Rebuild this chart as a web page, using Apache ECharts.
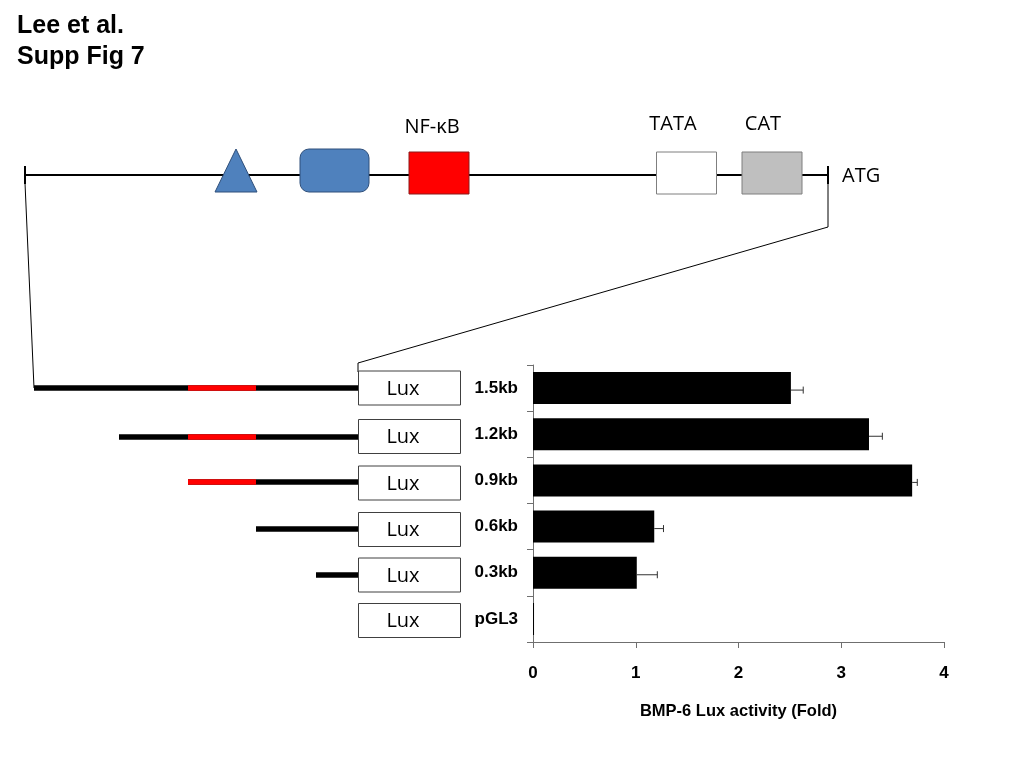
<!DOCTYPE html>
<html>
<head>
<meta charset="utf-8">
<script src="https://cdn.jsdelivr.net/npm/echarts@6/dist/echarts.min.js"></script>
<style>html,body{margin:0;padding:0;background:#fff}#c{width:1024px;height:768px}</style>
</head>
<body>
<div id="c"></div>
<script>
// ---- data ----
const categories = ['1.5kb', '1.2kb', '0.9kb', '0.6kb', '0.3kb', 'pGL3'];
const activity = [2.51, 3.27, 3.69, 1.18, 1.01, 0.01];
const errors = [0.12, 0.13, 0.05, 0.09, 0.20, 0];
const xTicks = [0, 1, 2, 3, 4];
const axisTitle = 'BMP-6 Lux activity (Fold)';
const titleLines = ['Lee et al.', 'Supp Fig 7'];
const elementLabels = ['NF-\u03baB', 'TATA', 'CAT', 'ATG'];
const boxLabel = 'Lux';

const narrow = "'Liberation Sans Narrow','Arial Narrow','Liberation Sans',Arial,sans-serif";
const calib = "'Open Sans','Noto Sans',sans-serif";

const chart = echarts.init(document.getElementById('c'));

const g = [];
// title
g.push({type:'text', style:{x:17, y:26, text:titleLines[0], font:"bold 25px 'Liberation Sans',Arial,sans-serif", fill:'#000', textVerticalAlign:'middle'}});
g.push({type:'text', style:{x:17, y:57, text:titleLines[1], font:"bold 25px 'Liberation Sans',Arial,sans-serif", fill:'#000', textVerticalAlign:'middle'}});

// promoter line
g.push({type:'line', shape:{x1:25, y1:175, x2:828, y2:175}, style:{stroke:'#000', lineWidth:2}});
g.push({type:'line', shape:{x1:25, y1:166, x2:25, y2:184}, style:{stroke:'#000', lineWidth:2}});
g.push({type:'line', shape:{x1:828, y1:166, x2:828, y2:184}, style:{stroke:'#000', lineWidth:2}});
// elements
g.push({type:'polygon', shape:{points:[[236,149],[215,192],[257,192]]}, style:{fill:'#4F81BD', stroke:'#2F4F7A', lineWidth:1}, z:10});
g.push({type:'rect', shape:{x:300, y:149, width:69, height:43, r:9}, style:{fill:'#4F81BD', stroke:'#2F4F7A', lineWidth:1}, z:10});
g.push({type:'rect', shape:{x:409, y:152, width:60, height:42}, style:{fill:'#FF0000', stroke:'#8B1A1A', lineWidth:1}, z:10});
g.push({type:'rect', shape:{x:656.5, y:152, width:60, height:42}, style:{fill:'#FFFFFF', stroke:'#7F7F7F', lineWidth:1}, z:10});
g.push({type:'rect', shape:{x:742, y:152, width:60, height:42}, style:{fill:'#BFBFBF', stroke:'#7F7F7F', lineWidth:1}, z:10});
// labels
g.push({type:'text', style:{x:432, y:127, text:elementLabels[0], font:'20px '+calib, fill:'#000', textAlign:'center', textVerticalAlign:'middle'}});
g.push({type:'text', style:{x:673, y:124, text:elementLabels[1], font:'20px '+calib, fill:'#000', textAlign:'center', textVerticalAlign:'middle'}});
g.push({type:'text', style:{x:763, y:124, text:elementLabels[2], font:'20px '+calib, fill:'#000', textAlign:'center', textVerticalAlign:'middle'}});
g.push({type:'text', style:{x:842, y:176, text:elementLabels[3], font:'20px '+calib, fill:'#000', textAlign:'left', textVerticalAlign:'middle'}});
// zoom connectors
g.push({type:'polyline', shape:{points:[[25,183],[34,388]]}, style:{stroke:'#000', lineWidth:1, fill:null}});
g.push({type:'polyline', shape:{points:[[828,183],[828,227],[358,363],[358,372]]}, style:{stroke:'#000', lineWidth:1, fill:null}});

// constructs
const rowY = [388, 436.5, 483, 529.5, 575, 620.5];
const starts = [34, 119, 188, 256, 316];
const lineY = [388, 437, 482, 529, 575];
for (let i = 0; i < starts.length; i++) {
  g.push({type:'line', shape:{x1:starts[i], y1:lineY[i], x2:358, y2:lineY[i]}, style:{stroke:'#000', lineWidth:5.5}});
  if (i < 3) g.push({type:'line', shape:{x1:188, y1:lineY[i], x2:256, y2:lineY[i]}, style:{stroke:'#FF0000', lineWidth:5.5}, z:5});
}
for (let i = 0; i < rowY.length; i++) {
  g.push({type:'rect', shape:{x:358.5, y:rowY[i]-17, width:102, height:34}, style:{fill:'#fff', stroke:'#404040', lineWidth:1}, z:10});
  g.push({type:'text', style:{x:403, y:rowY[i]+1, text:boxLabel, font:'20px '+calib, fill:'#000', textAlign:'center', textVerticalAlign:'middle'}, z:11});
}

const option = {
  animation: false,
  backgroundColor: '#fff',
  grid: {left:533, top:365, width:411, height:277, containLabel:false},
  xAxis: {
    type:'value', min:xTicks[0], max:xTicks[xTicks.length-1], interval:1,
    name: axisTitle, nameLocation:'middle', nameGap:61,
    nameTextStyle:{fontFamily:narrow, fontWeight:'bold', fontSize:16.5, color:'#000'},
    axisLine:{show:true, lineStyle:{color:'#6f6f6f', width:1}},
    axisTick:{show:true, length:6, lineStyle:{color:'#6f6f6f'}},
    axisLabel:{margin:23, fontFamily:narrow, fontWeight:'bold', fontSize:17, color:'#000'},
    splitLine:{show:false}
  },
  yAxis: {
    type:'category', data:categories, inverse:true,
    axisLine:{show:true, lineStyle:{color:'#6f6f6f', width:1}},
    axisTick:{show:true, length:6, lineStyle:{color:'#6f6f6f'}},
    axisLabel:{margin:15, fontFamily:narrow, fontWeight:'bold', fontSize:17, color:'#000'}
  },
  series: [
    {type:'bar', data:activity, barWidth:32, itemStyle:{color:'#000'}},
    {type:'custom', data: categories.map((c,i)=>[i, activity[i], errors[i]]),
     encode:{y:0, x:1},
     renderItem: function(params, api){
       const idx = api.value(0), v = api.value(1), e = api.value(2);
       if (!e) return null;
       const p0 = api.coord([v, idx]);
       const p1 = api.coord([v+e, idx]);
       const y = p0[1] + 2;
       return {type:'group', children:[
         {type:'line', shape:{x1:p0[0], y1:y, x2:p1[0], y2:y}, style:{stroke:'#333', lineWidth:1}},
         {type:'line', shape:{x1:p1[0], y1:y-3.5, x2:p1[0], y2:y+3.5}, style:{stroke:'#333', lineWidth:1}}
       ]};
     }, z:5}
  ],
  graphic: g
};
chart.setOption(option);
</script>
</body>
</html>
